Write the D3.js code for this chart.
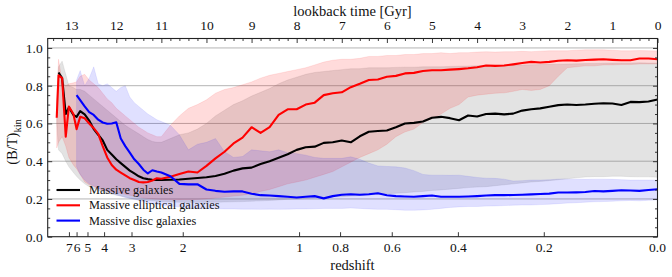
<!DOCTYPE html>
<html><head><meta charset="utf-8">
<script src="https://cdn.jsdelivr.net/npm/d3@7"></script>
<style>
body{margin:0;background:#fff}
svg{display:block}
svg text{font-family:"Liberation Serif","Times New Roman","DejaVu Serif",serif !important;fill:#111}
</style></head><body>
<svg id="c" width="672" height="277" font-family="Liberation Serif"></svg>
<script>
// lookback time grid [Gyr]
const lookback = [13.32,13.28,13.2,13.12,13.05,12.95,12.88,12.8,
  12.7,12.6,12.5,12.4,12.3,12.2,12.1,12.0,
  11.9,11.8,11.7,11.6,11.5,11.4,11.3,11.2,11.1,11.0,
  10.8,10.6,10.4,10.2,10.0, 9.8,9.6,9.4,9.2,9.0, 8.8,8.6,8.4,8.2,8.0, 7.8,7.6,7.4,7.2,7.0,
  6.8,6.6,6.4,6.2,6.0, 5.8,5.6,5.4,5.2,5.0, 4.8,4.6,4.4,4.2,4.0, 3.8,3.6,3.4,3.2,3.0,
  2.8,2.6,2.4,2.2,2.0, 1.8,1.6,1.4,1.2,1.0, 0.8,0.6,0.4,0.2,0.0];

const seriesNames = ["Massive galaxies","Massive elliptical galaxies","Massive disc galaxies"];

const allMedian = [null,0.87,0.84,0.65,0.685,0.645,0.635,0.665,
  0.648,0.615,0.57,0.54,0.51,0.46,0.435,0.41,
  0.39,0.37,0.35,0.335,0.32,0.31,0.305,0.302,0.30,0.30,
  0.302,0.303,0.307,0.311,0.315, 0.322,0.333,0.35,0.362,0.366, 0.385,0.40,0.418,0.437,0.46, 0.474,0.477,0.497,0.50,0.51,
  0.50,0.532,0.556,0.56,0.563, 0.58,0.60,0.603,0.61,0.63, 0.635,0.628,0.617,0.642,0.637, 0.65,0.652,0.648,0.652,0.668,
  0.675,0.68,0.688,0.697,0.70, 0.698,0.70,0.704,0.707,0.706, 0.698,0.714,0.713,0.716,0.727];
const allUpper = [0.72,0.90,0.93,0.86,0.80,0.79,0.78,0.78,
  0.77,0.75,0.73,0.71,0.69,0.67,0.65,0.63,
  0.61,0.59,0.575,0.56,0.545,0.53,0.515,0.505,0.50,0.50,
  0.52,0.54,0.55,0.57,0.60, 0.64,0.67,0.70,0.72,0.745, 0.765,0.785,0.81,0.83,0.845, 0.86,0.87,0.875,0.88,0.885,
  0.89,0.89,0.895,0.895,0.895, 0.897,0.898,0.898,0.90,0.90, 0.90,0.902,0.903,0.904,0.905, 0.906,0.907,0.908,0.909,0.91,
  0.911,0.912,0.913,0.914,0.915, 0.916,0.917,0.918,0.919,0.92, 0.92,0.92,0.921,0.92,0.92];
const allLower = [0.60,0.46,0.44,0.40,0.37,0.34,0.32,0.30,
  0.28,0.265,0.255,0.245,0.237,0.23,0.225,0.22,
  0.215,0.21,0.205,0.20,0.197,0.195,0.192,0.19,0.188,0.186,
  0.184,0.183,0.182,0.182,0.183, 0.183,0.184,0.185,0.186,0.188, 0.19,0.192,0.195,0.198,0.20, 0.202,0.205,0.207,0.21,0.212,
  0.215,0.218,0.222,0.225,0.228, 0.23,0.233,0.237,0.24,0.245, 0.248,0.252,0.256,0.26,0.263, 0.265,0.27,0.275,0.28,0.285,
  0.29,0.293,0.297,0.302,0.307, 0.312,0.316,0.318,0.318,0.32, 0.32,0.318,0.317,0.317,0.315];

const ellMedian = [0.63,0.855,0.84,0.53,0.69,0.65,0.57,0.635,
  0.627,0.60,0.575,0.545,0.48,0.42,0.38,0.355,
  0.34,0.325,0.31,0.30,0.29,0.288,0.29,0.298,0.31,0.307,
  0.318,0.332,0.345,0.34,0.375, 0.415,0.45,0.494,0.525,0.58, 0.55,0.58,0.645,0.675,0.675, 0.70,0.71,0.75,0.76,0.765,
  0.792,0.81,0.83,0.833,0.847, 0.852,0.865,0.868,0.878,0.882, 0.882,0.885,0.888,0.892,0.898, 0.907,0.905,0.907,0.913,0.92,
  0.926,0.923,0.926,0.932,0.935, 0.933,0.936,0.938,0.94,0.937, 0.935,0.935,0.944,0.944,0.94];
const ellUpper = [0.70,0.94,0.82,0.80,0.81,0.815,0.82,0.85,
  0.86,0.83,0.81,0.79,0.76,0.73,0.71,0.68,
  0.66,0.64,0.62,0.60,0.58,0.565,0.55,0.54,0.53,0.53,
  0.59,0.64,0.68,0.70,0.725, 0.76,0.78,0.79,0.805,0.82, 0.84,0.855,0.865,0.875,0.885, 0.895,0.91,0.925,0.935,0.94,
  0.94,0.945,0.955,0.955,0.96, 0.96,0.965,0.965,0.97,0.97, 0.975,0.97,0.975,0.975,0.978, 0.98,0.978,0.98,0.98,0.982,
  0.98,0.983,0.985,0.985,0.985, 0.988,0.99,0.99,0.99,0.988, 0.985,0.985,0.986,0.985,0.984];
const ellLower = [0.47,0.50,0.53,0.48,0.42,0.38,0.36,0.33,
  0.29,0.275,0.265,0.255,0.248,0.243,0.238,0.235,
  0.23,0.225,0.22,0.215,0.21,0.205,0.203,0.20,0.198,0.197,
  0.196,0.195,0.196,0.197,0.20, 0.205,0.21,0.215,0.22,0.228, 0.24,0.25,0.265,0.28,0.29, 0.30,0.315,0.33,0.345,0.37,
  0.395,0.42,0.44,0.46,0.49, 0.53,0.555,0.57,0.605,0.625, 0.65,0.68,0.70,0.74,0.75, 0.755,0.76,0.762,0.77,0.78,
  0.775,0.78,0.80,0.85,0.895, 0.90,0.905,0.905,0.91,0.91, 0.912,0.912,0.915,0.915,0.915];

const discMedian = [null,null,null,null,null,null,0.75,0.723,
  0.69,0.66,0.645,0.62,0.605,0.598,0.60,0.606,
  0.52,0.48,0.445,0.41,0.385,0.355,0.335,0.352,0.345,0.34,
  0.32,0.28,0.277,0.278,0.25, 0.243,0.238,0.24,0.24,0.228, 0.22,0.218,0.215,0.212,0.208, 0.212,0.215,0.203,0.215,0.222,
  0.225,0.222,0.225,0.23,0.22, 0.215,0.213,0.212,0.215,0.218, 0.212,0.212,0.212,0.213,0.215, 0.218,0.22,0.22,0.221,0.222,
  0.224,0.226,0.228,0.234,0.234, 0.235,0.237,0.242,0.24,0.243, 0.246,0.245,0.243,0.247,0.251];
const discUpper = [null,null,null,null,null,null,0.83,0.88,
  0.80,0.84,0.90,0.81,0.80,0.81,0.79,0.77,
  0.79,0.80,0.74,0.71,0.69,0.67,0.65,0.635,0.62,0.61,
  0.59,0.54,0.46,0.49,0.50, 0.52,0.45,0.42,0.425,0.46, 0.455,0.45,0.46,0.445,0.44, 0.432,0.42,0.415,0.415,0.415,
  0.423,0.41,0.39,0.375,0.372, 0.37,0.364,0.35,0.33,0.326, 0.326,0.325,0.326,0.32,0.314, 0.31,0.309,0.305,0.295,0.297,
  0.30,0.30,0.302,0.305,0.305, 0.305,0.304,0.305,0.305,0.304, 0.302,0.30,0.30,0.30,0.30];
const discLower = [null,null,null,null,null,null,0.37,0.33,
  0.30,0.28,0.27,0.255,0.247,0.24,0.232,0.222,
  0.215,0.208,0.203,0.198,0.192,0.186,0.18,0.176,0.172,0.168,
  0.162,0.157,0.153,0.15,0.15, 0.148,0.147,0.147,0.146,0.146, 0.145,0.146,0.145,0.146,0.147, 0.147,0.148,0.15,0.15,0.15,
  0.152,0.15,0.147,0.145,0.145, 0.143,0.14,0.14,0.142,0.145, 0.15,0.155,0.158,0.16,0.16, 0.162,0.163,0.165,0.167,0.168,
  0.168,0.17,0.172,0.175,0.178, 0.18,0.183,0.185,0.186,0.188, 0.19,0.192,0.19,0.193,0.195];

const lookbackTicks = [13,12,11,10,9,8,7,6,5,4,3,2,1,0];
const redshiftTicks = [7,6,5,4,3,2,1,0.8,0.6,0.4,0.2,0.0];
const redshiftLabels = ["7","6","5","4","3","2","1","0.8","0.6","0.4","0.2","0.0"];
const yTicks = [0.0,0.2,0.4,0.6,0.8,1.0];

// Planck cosmology for redshift -> lookback time
const H0 = 67.74, Om = 0.3089, OL = 1 - Om, tH = 977.79 / H0;
function lookbackOf(z){
  const n = 400, h = z / n;
  const f = zz => 1 / ((1 + zz) * Math.sqrt(Om * Math.pow(1 + zz, 3) + OL));
  let s = f(0) + f(z);
  for (let i = 1; i < n; i++) s += (i % 2 ? 4 : 2) * f(i * h);
  return tH * s * h / 3;
}

const FONT = '"Liberation Serif","Times New Roman","DejaVu Serif",serif';
const L = 47.7, R = 657.5, T = 38.5, B = 236.7;
const svg = d3.select("#c");
const x = d3.scaleLinear().domain([13.52, 0]).range([L, R]);
const y = d3.scaleLinear().domain([0, 1.05]).range([B, T]);

svg.append("clipPath").attr("id","clip").append("rect")
  .attr("x", L).attr("y", T).attr("width", R - L).attr("height", B - T);

// grid
svg.append("g").selectAll("line").data([0.2,0.4,0.6,0.8,1.0]).join("line")
  .attr("x1", L).attr("x2", R).attr("y1", d => y(d)).attr("y2", d => y(d))
  .attr("stroke", "#b4b4b4").attr("stroke-width", 1);

const idx = d3.range(lookback.length);
const plot = svg.append("g").attr("clip-path", "url(#clip)");

function band(up, lo, color, op){
  const a = d3.area().defined(i => up[i] != null && lo[i] != null)
    .x(i => x(lookback[i])).y0(i => y(lo[i])).y1(i => y(up[i]));
  plot.append("path").attr("d", a(idx)).attr("fill", color).attr("fill-opacity", op)
    .attr("stroke", color).attr("stroke-opacity", op * 0.8).attr("stroke-width", 0.8);
}
band(allUpper, allLower, "#808080", 0.22);
band(ellUpper, ellLower, "#ff0000", 0.14);
band(discUpper, discLower, "#0000ff", 0.12);

function line(vals, color){
  const l = d3.line().defined(i => vals[i] != null)
    .x(i => x(lookback[i])).y(i => y(vals[i]));
  plot.append("path").attr("d", l(idx)).attr("fill", "none").attr("stroke", color)
    .attr("stroke-width", 2.1).attr("stroke-linejoin", "round");
}
line(allMedian, "#000000");
line(ellMedian, "#ff0000");
line(discMedian, "#0000ff");

// axes
const fs = 13.5;
const axisColor = "#222";
const minorY = d3.range(0, 21).map(i => i * 0.05).filter((d,i) => i % 4);
const gl = svg.append("g").attr("transform", `translate(${L},0)`)
  .call(d3.axisLeft(y).tickValues(yTicks).tickFormat(d3.format(".1f")).tickSize(-4.5).tickPadding(5));
const glm = svg.append("g").attr("transform", `translate(${L},0)`)
  .call(d3.axisLeft(y).tickValues(minorY).tickFormat("").tickSize(-2.5));
const gr = svg.append("g").attr("transform", `translate(${R},0)`)
  .call(d3.axisRight(y).tickValues(yTicks).tickFormat("").tickSize(-4.5));
const grm = svg.append("g").attr("transform", `translate(${R},0)`)
  .call(d3.axisRight(y).tickValues(minorY).tickFormat("").tickSize(-2.5));
const gt = svg.append("g").attr("transform", `translate(0,${T})`)
  .call(d3.axisTop(x).tickValues(lookbackTicks).tickFormat(d3.format("d")).tickSize(-4.5).tickPadding(8.5));
const minorT = d3.range(0, 68).map(i => i * 0.2).filter((d,i) => i % 5);
const gtm = svg.append("g").attr("transform", `translate(0,${T})`)
  .call(d3.axisTop(x).tickValues(minorT).tickFormat("").tickSize(-2.5));
[gl,glm,gr,grm,gt,gtm].forEach(g => {
  g.attr("font-family", null);
  g.select(".domain").remove();
  g.selectAll("line").attr("stroke", axisColor).attr("stroke-width", 0.9);
  g.selectAll("text").style("font-family", FONT).attr("font-size", fs).attr("fill", "#111");
});
const gb = svg.append("g");
gb.selectAll("line").data(redshiftTicks).join("line")
  .attr("x1", d => x(lookbackOf(d))).attr("x2", d => x(lookbackOf(d)))
  .attr("y1", B).attr("y2", B - 4.5).attr("stroke", axisColor).attr("stroke-width", 0.9);
gb.selectAll("text").data(redshiftTicks).join("text")
  .attr("x", d => x(lookbackOf(d))).attr("y", 251.5).attr("text-anchor", "middle")
  .attr("font-size", fs).style("font-family", FONT).text((d,i) => redshiftLabels[i]);

// frame
svg.append("rect").attr("x", L).attr("y", T).attr("width", R - L).attr("height", B - T)
  .attr("fill", "none").attr("stroke", axisColor).attr("stroke-width", 1.1);

// axis labels
svg.append("text").attr("x", 352.5).attr("y", 270).attr("text-anchor", "middle")
  .attr("font-size", 14.5).style("font-family", FONT).text("redshift");
svg.append("text").attr("x", 352.5).attr("y", 15.5).attr("text-anchor", "middle")
  .attr("font-size", 14.5).style("font-family", FONT).text("lookback time [Gyr]");
const yl = svg.append("text").attr("transform", "translate(17,142) rotate(-90)")
  .attr("text-anchor", "middle").attr("font-size", 14.5).style("font-family", FONT);
yl.append("tspan").text("(B/T)");
yl.append("tspan").attr("dy", 3.5).attr("font-size", 10.5).text("kin");

// legend
const legColors = ["#000000", "#ff0000", "#0000ff"];
const lg = svg.append("g");
seriesNames.forEach((n, i) => {
  const yy = 190 + i * 15.3;
  lg.append("line").attr("x1", 56.5).attr("x2", 80).attr("y1", yy).attr("y2", yy)
    .attr("stroke", legColors[i]).attr("stroke-width", 2.1);
  lg.append("text").attr("x", 89).attr("y", yy + 4).attr("font-size", 12.3)
    .style("font-family", FONT).text(n);
});
</script></body></html>
